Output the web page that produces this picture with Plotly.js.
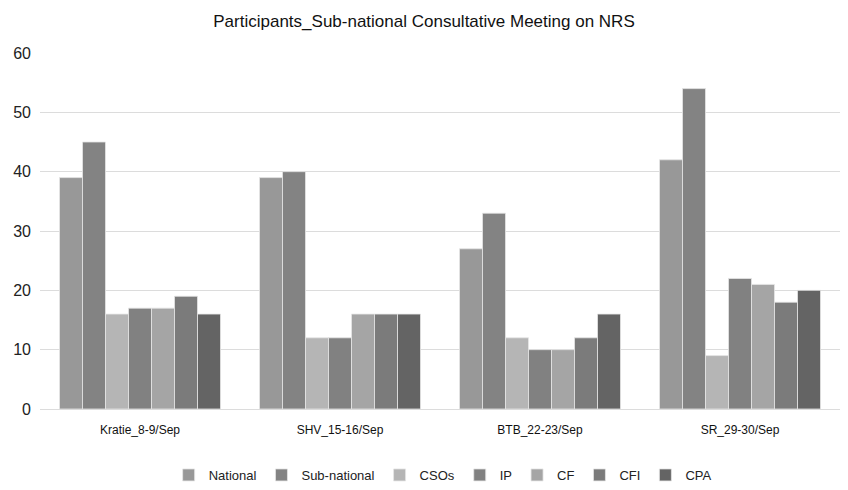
<!DOCTYPE html>
<html>
<head>
<meta charset="utf-8">
<script src="https://cdn.plot.ly/plotly-3.0.1.min.js"></script>
<style>html,body{margin:0;padding:0;background:#fff;}#chart{width:848px;height:490px;}</style>
</head>
<body>
<div id="chart"></div>
<script>
const categories = ["Kratie_8-9/Sep", "SHV_15-16/Sep", "BTB_22-23/Sep", "SR_29-30/Sep"];
const seriesNames = ["National", "Sub-national", "CSOs", "IP", "CF", "CFI", "CPA"];
const national = [39, 39, 27, 42];
const subNational = [45, 40, 33, 54];
const csos = [16, 12, 12, 9];
const ip = [17, 12, 10, 22];
const cf = [17, 16, 10, 21];
const cfi = [19, 16, 12, 18];
const cpa = [16, 16, 16, 20];
const seriesValues = [national, subNational, csos, ip, cf, cfi, cpa];
const colors = ["#989898", "#838383", "#b5b5b5", "#818181", "#a5a5a5", "#7b7b7b", "#646464"];

const traces = seriesNames.map((name, i) => ({
  type: "bar",
  name: name,
  x: categories,
  y: seriesValues[i],
  marker: {color: colors[i], line: {color: "#e6e6e6", width: 0.8}}
}));

const layout = {
  width: 848, height: 490,
  margin: {l: 40, r: 8, t: 53, b: 81},
  paper_bgcolor: "#fff", plot_bgcolor: "#fff",
  font: {family: "Liberation Sans, Arial, sans-serif", color: "#000"},
  title: {text: "Participants_Sub-national Consultative Meeting on NRS", font: {size: 17, color: "#111"}, x: 0.5, xanchor: "center", y: 0.958, yanchor: "middle"},
  barmode: "group",
  bargap: 0.195,
  bargroupgap: 0,
  xaxis: {tickfont: {size: 12, color: "#111"}, showline: false, ticks: "", showgrid: false, ticklabelstandoff: 12},
  yaxis: {range: [0, 60], dtick: 10, tickfont: {size: 16, color: "#222"}, gridcolor: "#dcdcdc", gridwidth: 1, zeroline: true, zerolinecolor: "#dcdcdc", zerolinewidth: 1, ticks: "", ticklen: 0, showline: false, ticklabelstandoff: 8},
  legend: {orientation: "h", x: 0.522, xanchor: "center", xref: "container", yref: "container", y: 0.0, yanchor: "bottom", font: {size: 13, color: "#222"}, traceorder: "normal", itemwidth: 30}
};

Plotly.newPlot("chart", traces, layout, {displayModeBar: false, staticPlot: true});
</script>
</body>
</html>
